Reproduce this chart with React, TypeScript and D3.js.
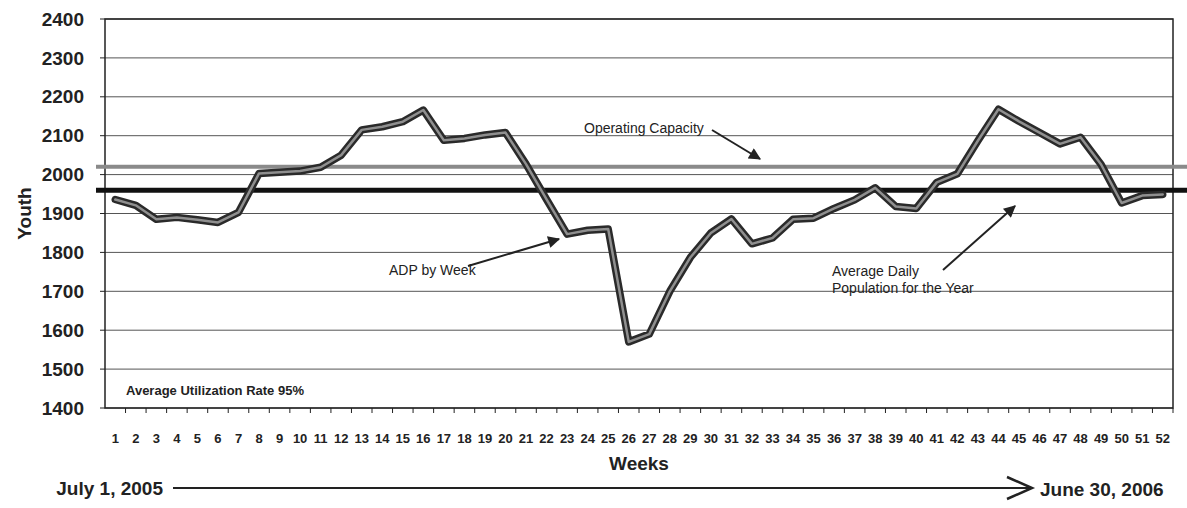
import React from "react";
import * as d3 from "d3";

const weeks = [
  "1", "2", "3", "4", "5", "6", "7", "8", "9", "10", "11", "12", "13",
  "14", "15", "16", "17", "18", "19", "20", "21", "22", "23", "24", "25", "26",
  "27", "28", "29", "30", "31", "32", "33", "34", "35", "36", "37", "38", "39",
  "40", "41", "42", "43", "44", "45", "46", "47", "48", "49", "50", "51", "52",
];

const adpByWeek = [
  1936, 1921, 1885, 1890, 1884, 1877, 1903, 2003, 2006, 2009, 2019, 2050, 2115,
  2123, 2136, 2166, 2088, 2093, 2102, 2108, 2027, 1936, 1847, 1857, 1860, 1570,
  1590, 1700, 1787, 1850, 1886, 1822, 1837, 1885, 1888, 1913, 1935, 1966, 1918,
  1913, 1980, 2002, 2087, 2168, 2137, 2108, 2079, 2096, 2026, 1927, 1946, 1949,
];

const yTicks = [1400, 1500, 1600, 1700, 1800, 1900, 2000, 2100, 2200, 2300, 2400];

const operatingCapacity = 2020;
const averageDaily = 1960;

const W = 1187;
const H = 508;
const margin = { top: 19, right: 14, bottom: 100, left: 105 };
const font = "Arial, 'Liberation Sans', sans-serif";

export default function App() {
  const innerW = W - margin.left - margin.right;
  const innerH = H - margin.top - margin.bottom;

  const x = d3.scaleBand<string>().domain(weeks).range([0, innerW]);
  const y = d3.scaleLinear().domain([1400, 2400]).range([innerH, 0]);
  const cx = (w: string) => (x(w) ?? 0) + x.bandwidth() / 2;

  const line = d3
    .line<number>()
    .x((_, i) => cx(weeks[i]))
    .y((d) => y(d));
  const path = line(adpByWeek) ?? "";

  return (
    <svg
      width={W}
      height={H}
      style={{ position: "absolute", left: 0, top: 0, background: "#fff" }}
      fontFamily={font}
    >
      <defs>
        <marker
          id="tri"
          viewBox="0 0 10 10"
          refX="9"
          refY="5"
          markerWidth="7"
          markerHeight="6"
          orient="auto"
        >
          <path d="M0,0 L10,5 L0,10 z" fill="#222" />
        </marker>
      </defs>
      <g transform={`translate(${margin.left},${margin.top})`}>
        {/* gridlines */}
        {yTicks.map((t) => (
          <line
            key={t}
            x1={0}
            x2={innerW}
            y1={y(t)}
            y2={y(t)}
            stroke="#555"
            strokeWidth={1}
          />
        ))}

        {/* y ticks + labels */}
        {yTicks.map((t) => (
          <g key={"yt" + t}>
            <line x1={-5} x2={0} y1={y(t)} y2={y(t)} stroke="#222" />
            <text
              x={-21}
              y={y(t)}
              dy="0.35em"
              textAnchor="end"
              fontSize={19}
              fontWeight="bold"
              fill="#222"
            >
              {t}
            </text>
          </g>
        ))}

        {/* x ticks at band boundaries + labels */}
        {weeks.map((w) => (
          <g key={"xt" + w}>
            <line
              x1={(x(w) ?? 0) + x.bandwidth()}
              x2={(x(w) ?? 0) + x.bandwidth()}
              y1={innerH}
              y2={innerH + 5}
              stroke="#222"
            />
            <text
              x={cx(w)}
              y={innerH + 30}
              dy="0.35em"
              textAnchor="middle"
              fontSize={13}
              fontWeight="bold"
              fill="#222"
            >
              {w}
            </text>
          </g>
        ))}

        {/* frame */}
        <rect
          x={0}
          y={0}
          width={innerW}
          height={innerH}
          fill="none"
          stroke="#222"
          strokeWidth={1.5}
        />

        {/* reference lines */}
        <line
          x1={-9}
          x2={W - margin.left}
          y1={y(operatingCapacity)}
          y2={y(operatingCapacity)}
          stroke="#8a8a8a"
          strokeWidth={4}
        />
        <line
          x1={-9}
          x2={W - margin.left}
          y1={y(averageDaily)}
          y2={y(averageDaily)}
          stroke="#111"
          strokeWidth={5}
        />

        {/* ADP by week */}
        <path
          d={path}
          fill="none"
          stroke="#2a2a2a"
          strokeWidth={7.5}
          strokeLinejoin="round"
          strokeLinecap="round"
        />
        <path
          d={path}
          fill="none"
          stroke="#8f8f8f"
          strokeWidth={2.5}
          strokeLinejoin="round"
          strokeLinecap="round"
        />

        <text x={21} y={innerH - 18} dy="0.35em" fontSize={13} fontWeight="bold" fill="#222">
          Average Utilization Rate 95%
        </text>
      </g>

      {/* annotations */}
      <text x={584} y={128} dy="0.35em" fontSize={14} fill="#222">
        Operating Capacity
      </text>
      <line x1={712} y1={130} x2={760} y2={159} stroke="#222" strokeWidth={2} markerEnd="url(#tri)" />

      <text x={389} y={270} dy="0.35em" fontSize={14} fill="#222">
        ADP by Week
      </text>
      <line x1={468} y1={266} x2={559} y2={239} stroke="#222" strokeWidth={2} markerEnd="url(#tri)" />

      <text x={832} y={271} dy="0.35em" fontSize={14} fill="#222">
        Average Daily
      </text>
      <text x={832} y={288} dy="0.35em" fontSize={14} fill="#222">
        Population for the Year
      </text>
      <line x1={943} y1={270} x2={1015} y2={206} stroke="#222" strokeWidth={2} markerEnd="url(#tri)" />

      {/* axis titles */}
      <text
        transform={`translate(24,${margin.top + innerH / 2}) rotate(-90)`}
        textAnchor="middle"
        dy="0.35em"
        fontSize={19}
        fontWeight="bold"
        fill="#222"
      >
        Youth
      </text>
      <text
        x={margin.left + innerW / 2}
        y={463}
        dy="0.35em"
        textAnchor="middle"
        fontSize={19}
        fontWeight="bold"
        fill="#222"
      >
        Weeks
      </text>

      {/* date range arrow */}
      <text x={163} y={488} dy="0.35em" textAnchor="end" fontSize={19} fontWeight="bold" fill="#222">
        July 1, 2005
      </text>
      <line x1={173} y1={488} x2={1032} y2={488} stroke="#222" strokeWidth={2} />
      <polyline points="1007,477 1032,488 1007,499" fill="none" stroke="#222" strokeWidth={2.5} />
      <text x={1040} y={489} dy="0.35em" fontSize={19} fontWeight="bold" fill="#222">
        June 30, 2006
      </text>
    </svg>
  );
}
